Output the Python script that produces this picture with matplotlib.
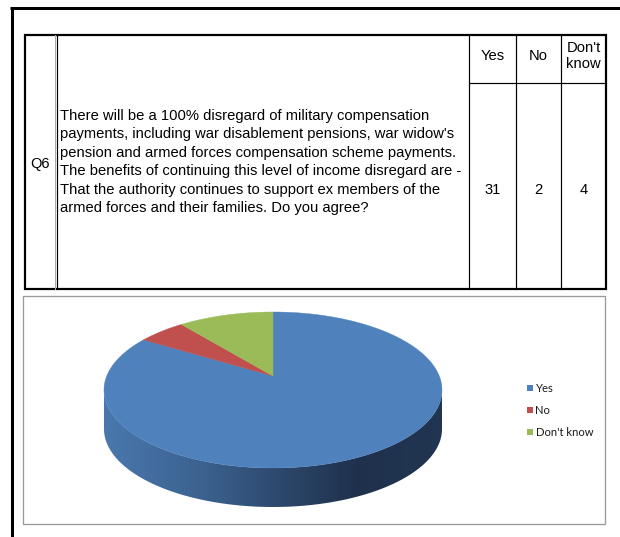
import numpy as np
import matplotlib.pyplot as plt
from matplotlib.patches import Polygon, Rectangle
from matplotlib.colors import LinearSegmentedColormap

question_id = "Q6"
question_lines = [
    "There will be a 100% disregard of military compensation",
    "payments, including war disablement pensions, war widow's",
    "pension and armed forces compensation scheme payments.",
    "The benefits of continuing this level of income disregard are -",
    "That the authority continues to support ex members of the",
    "armed forces and their families. Do you agree?",
]
answers = ["Yes", "No", "Don't know"]
answer_headers = ["Yes", "No", "Don't\nknow"]
responses = [31, 2, 4]
slice_colors = ["#4F81BD", "#C0504D", "#9BBB59"]

W, H = 620, 537
px = 0.72  # one pixel in points at dpi 100

fig = plt.figure(figsize=(W / 100, H / 100), dpi=100)
ax = fig.add_axes([0, 0, 1, 1])
ax.set_xlim(0, W)
ax.set_ylim(H, 0)
ax.axis("off")

txt = dict(family="Liberation Sans", color="black")

# page frame
ax.plot([10, W], [8, 8], color="black", lw=3 * px, solid_capstyle="butt")
ax.plot([11.5, 11.5], [7, H], color="black", lw=3 * px, solid_capstyle="butt")

# question table
tl, tr, tt, tb = 25, 606, 34.5, 289
col_x = [469, 516, 561, tr]
ax.add_patch(Rectangle((tl, tt), tr - tl, tb - tt, fill=False, ec="black", lw=2.2 * px))
ax.plot([55, 55], [tt, tb], color="#aaaaaa", lw=1 * px)
ax.plot([56.5, 56.5], [tt, tb], color="black", lw=1.2 * px)
for x in col_x[:-1]:
    ax.plot([x, x], [tt, tb], color="black", lw=1.2 * px)
ax.plot([col_x[0], tr], [83, 83], color="black", lw=1.2 * px)

ax.text(40, 164, question_id, ha="center", va="center", fontsize=10.5, **txt)
for i, line in enumerate(question_lines):
    ax.text(59.5, 116 + i * 18.4, line, ha="left", va="center", fontsize=10.6, **txt)

for i, (hdr, n) in enumerate(zip(answer_headers, responses)):
    cx = (col_x[i] + col_x[i + 1]) / 2
    ax.text(cx, 56, hdr, ha="center", va="center", fontsize=10.6, linespacing=1.1, **txt)
    ax.text(cx, 190, str(n), ha="center", va="center", fontsize=10.6, **txt)

# chart area
ax.add_patch(Rectangle((23, 295.5), 582, 228.5, fill=False, ec="#9a9a9a", lw=1.3 * px))

# 3d pie: ellipse of the top face, and a perspective shift of its centre
cx0, cy0, a, b = 273, 390, 169, 78
depth = 39
c = (cy0 - 376) / b


def top_point(theta):
    # map a point on the unit circle through a projective shift, then to pixels
    s, co = np.sin(theta), np.cos(theta)
    d = 1 + c * s
    xp = co * np.sqrt(1 - c ** 2) / d
    yp = (s + c) / d
    return cx0 + a * xp, cy0 - b * yp


apex = (cx0, cy0 - b * c)

# side wall with horizontal shading
phi = np.linspace(np.pi, 2 * np.pi, 200)
ex = cx0 + a * np.cos(phi)
ey = cy0 - b * np.sin(phi)
side = np.vstack([np.column_stack([ex, ey]), np.column_stack([ex[::-1], ey[::-1] + depth])])
side_patch = Polygon(side, closed=True, fc="none", ec="none")
ax.add_patch(side_patch)
shade = LinearSegmentedColormap.from_list(
    "side",
    [(0.0, (0.29, 0.47, 0.68)), (0.3, (0.23, 0.38, 0.56)), (0.55, (0.17, 0.27, 0.41)),
     (0.75, (0.12, 0.19, 0.30)), (1.0, (0.13, 0.21, 0.32))])
grad = np.linspace(0, 1, 256)[None, :]
im = ax.imshow(grad, cmap=shade, extent=[cx0 - a, cx0 + a, cy0 + b + depth + 2, cy0 - 2],
               aspect="auto", interpolation="bilinear", zorder=2)
im.set_clip_path(side_patch)
ax.set_xlim(0, W)
ax.set_ylim(H, 0)

# top face slices, clockwise from twelve o'clock
total = sum(responses)
start = np.pi / 2
for n, col in zip(responses, slice_colors):
    end = start - 2 * np.pi * n / total
    th = np.linspace(start, end, max(int(abs(end - start) * 60), 4))
    xs, ys = top_point(th)
    pts = np.vstack([[apex], np.column_stack([xs, ys])])
    ax.add_patch(Polygon(pts, closed=True, fc=col, ec=col, lw=0.3, zorder=3))
    start = end

# legend
for i, (lab, col) in enumerate(zip(answers, slice_colors)):
    y = 388 + i * 22
    ax.add_patch(Rectangle((526.5, y - 3.2), 6, 6, fc=col, ec="none", zorder=4))
    ax.text(535.5, y, lab, ha="left", va="center", fontsize=8.1, family="Lato", color="#1a1a1a")

fig.savefig("out.png", dpi=100)
